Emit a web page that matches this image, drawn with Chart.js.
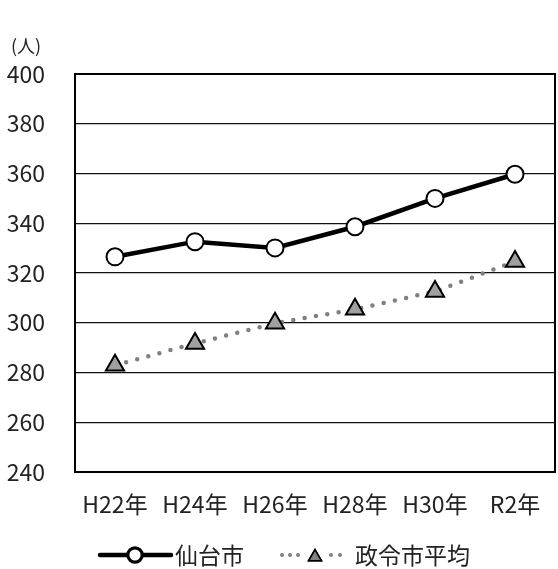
<!DOCTYPE html>
<html lang="ja">
<head>
<meta charset="utf-8">
<script src="https://cdn.jsdelivr.net/npm/chart.js@4.4.1/dist/chart.umd.min.js"></script>
<style>
  html, body { margin: 0; padding: 0; background: #fff; overflow: hidden; }
  #wrap { width: 558px; height: 569px; }
  canvas { display: block; }
</style>
</head>
<body>
<div id="wrap"><canvas id="population" width="558" height="569"></canvas></div>
<script>
const years = ['H22年', 'H24年', 'H26年', 'H28年', 'H30年', 'R2年'];
const sendaiValues = [326.5, 332.6, 330.1, 338.6, 350.0, 359.7];
const cityAvgValues = [282.9, 291.7, 299.8, 305.4, 312.6, 324.6];
const seriesNames = ['仙台市', '政令市平均'];
const unitLabel = '(人)';

const FONT = "'Liberation Sans Narrow', 'Noto Sans CJK JP', sans-serif";

// frame around the plot area
const framePlugin = {
  id: 'frame',
  beforeDatasetsDraw(chart) {
    const a = chart.chartArea;
    const ctx = chart.ctx;
    ctx.save();
    ctx.strokeStyle = '#000';
    ctx.lineWidth = 2;
    ctx.strokeRect(a.left, a.top, a.right - a.left, a.bottom - a.top);
    ctx.restore();
  }
};

// unit label + legend under the axis
const extrasPlugin = {
  id: 'extras',
  afterDraw(chart) {
    const ctx = chart.ctx;
    ctx.save();
    ctx.fillStyle = '#222';
    ctx.textBaseline = 'middle';
    ctx.font = "18px 'Noto Sans CJK JP', sans-serif";
    ctx.fillText(unitLabel, 11, 46);

    const ly = 555;
    ctx.font = "23px " + FONT;

    // 仙台市
    const d0 = chart.data.datasets[0];
    ctx.strokeStyle = d0.borderColor;
    ctx.lineWidth = 4.5;
    ctx.lineCap = 'round';
    ctx.beginPath();
    ctx.moveTo(100, ly);
    ctx.lineTo(171, ly);
    ctx.stroke();
    Chart.helpers.drawPoint(ctx, {pointStyle: 'circle', radius: 6.5, borderWidth: 1.5, rotation: 0}, 135, ly);
    ctx.fillStyle = '#fff';
    ctx.fill();
    ctx.strokeStyle = '#000';
    ctx.lineWidth = 1.8;
    ctx.stroke();
    ctx.fillStyle = '#222';
    ctx.fillText(seriesNames[0], 175, ly);

    // 政令市平均
    ctx.fillStyle = '#808080';
    [282, 290, 298, 331, 340].forEach(x => {
      ctx.beginPath();
      ctx.arc(x, ly, 2, 0, Math.PI * 2);
      ctx.fill();
    });
    ctx.fillStyle = '#808080';
    ctx.strokeStyle = '#000';
    ctx.lineWidth = 1.5;
    Chart.helpers.drawPoint(ctx, {pointStyle: 'triangle', radius: 7.5, borderWidth: 1.5, rotation: 0}, 315, ly + 2);
    ctx.fill();
    ctx.stroke();
    ctx.fillStyle = '#222';
    ctx.fillText(seriesNames[1], 355, ly);
    ctx.restore();
  }
};

const ctx = document.getElementById('population').getContext('2d');
const populationChart = new Chart(ctx, {
  type: 'line',
  data: {
    labels: years,
    datasets: [
      {
        label: seriesNames[0],
        data: sendaiValues,
        borderColor: '#000',
        borderWidth: 4.5,
        pointStyle: 'circle',
        pointRadius: 8.5,
        pointBorderWidth: 2,
        pointBackgroundColor: '#fff',
        pointBorderColor: '#000',
        tension: 0
      },
      {
        label: seriesNames[1],
        data: cityAvgValues,
        borderColor: '#808080',
        borderWidth: 4.5,
        borderDash: [0, 11.5],
        borderCapStyle: 'round',
        pointStyle: 'triangle',
        pointRadius: 10.5,
        pointBorderWidth: 2,
        pointBackgroundColor: '#a0a0a0',
        pointBorderColor: '#000',
        tension: 0
      }
    ]
  },
  options: {
    responsive: false,
    animation: false,
    layout: { autoPadding: false, padding: { top: 74, left: 0, right: 3, bottom: 0 } },
    plugins: {
      legend: { display: false },
      tooltip: { enabled: false }
    },
    scales: {
      x: {
        offset: true,
        grid: { display: false, drawTicks: false },
        border: { display: false },
        ticks: {
          padding: 18,
          color: '#222',
          font: { family: FONT, size: 23 },
          maxRotation: 0
        },
        afterFit(scale) {
          scale.height = 97;
          scale.paddingLeft = 0;
          scale.paddingRight = 0;
        }
      },
      y: {
        min: 240,
        max: 400,
        grid: { color: '#111', lineWidth: 1.3, drawTicks: false },
        border: { display: false },
        ticks: {
          stepSize: 20,
          padding: 30,
          color: '#222',
          font: { family: FONT, size: 23 }
        },
        afterFit(scale) { scale.width = 75; }
      }
    }
  },
  plugins: [framePlugin, extrasPlugin]
});
</script>
</body>
</html>
